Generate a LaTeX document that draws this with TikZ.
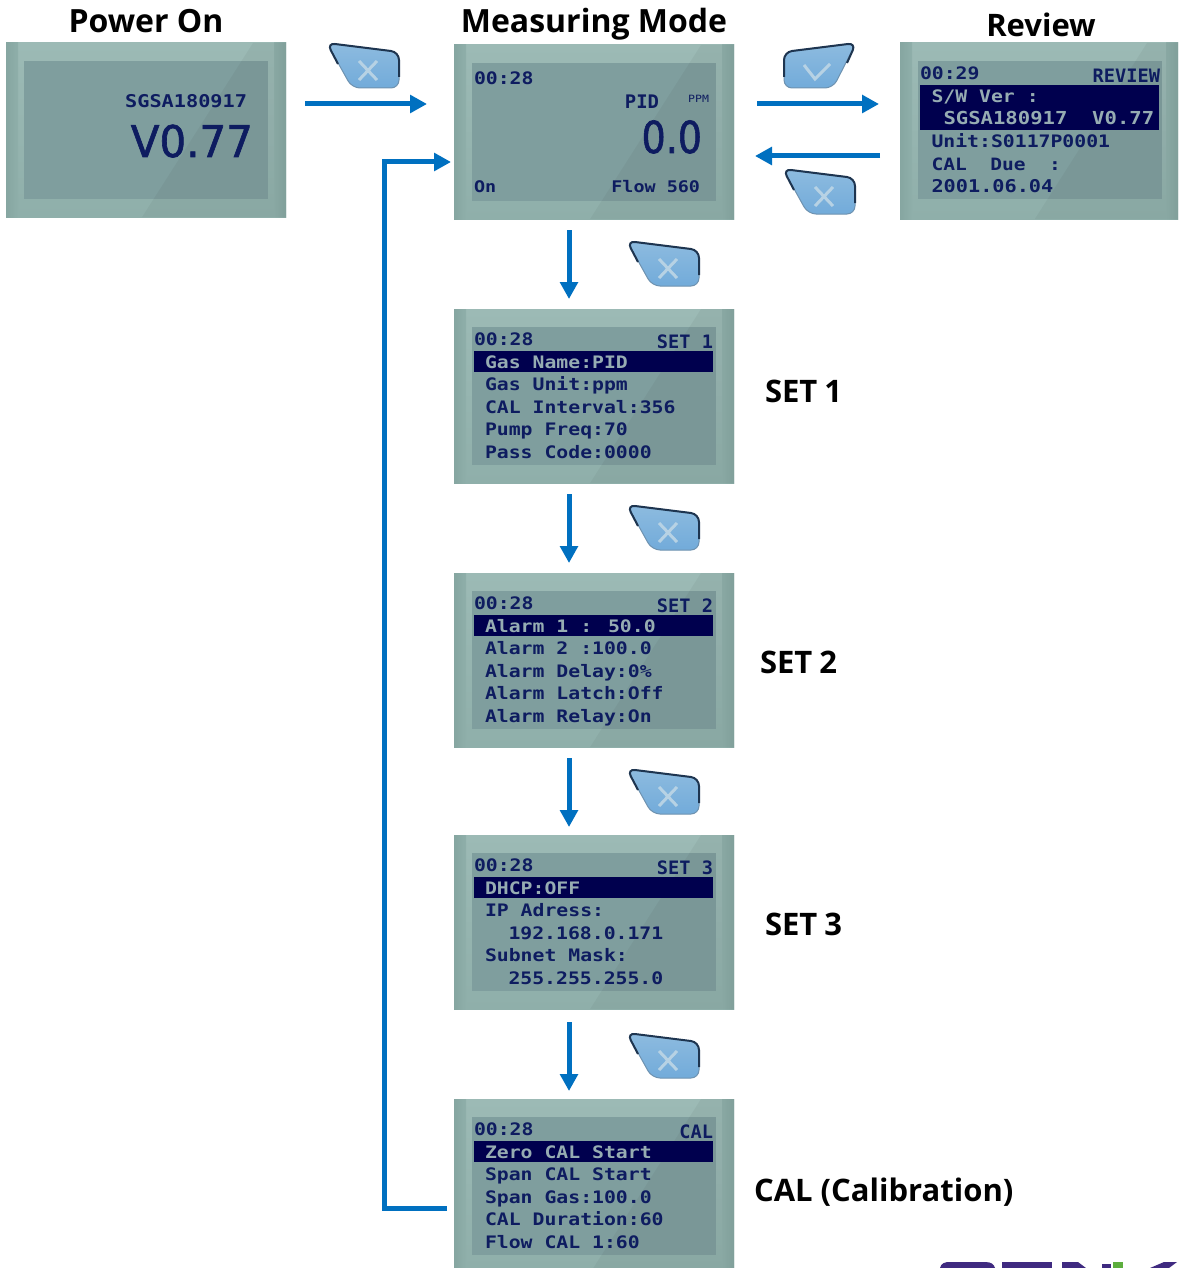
\documentclass[tikz,border=0pt]{standalone}
\usepackage{fontspec}
\usepackage{graphicx}
\usetikzlibrary{arrows.meta}
\setmainfont{Open Sans}
\newfontfamily\lcdfam[FakeStretch=1.15]{DejaVu Sans Mono}
\newfontfamily\lcdbig[FakeBold=1.5]{DejaVu Sans}
\definecolor{lcdink}{HTML}{0E1C60}
\definecolor{lcdbarc}{HTML}{00004E}
\definecolor{lcdbartext}{HTML}{96ACB2}
\definecolor{lcdinner}{HTML}{7F9E9E}
\definecolor{lcdtop}{HTML}{9CBAB5}
\definecolor{lcdbot}{HTML}{8FAFAA}
\definecolor{lcdedge}{HTML}{86A6A1}
\definecolor{flow}{HTML}{0070C0}
\definecolor{btnline}{HTML}{6E92B0}
\definecolor{btndark}{HTML}{1E3550}
\definecolor{btnhi}{HTML}{8DBBDF}
\definecolor{btnlo}{HTML}{72ABDA}
\definecolor{btnmark}{HTML}{B7D2E4}
\definecolor{logop}{HTML}{3F2A80}
\definecolor{logog}{HTML}{5DAE3E}
\newcount\lcdcnt
\newcommand{\lcdsize}{\fontsize{17.2}{20}\selectfont}
\tikzset{
  lcdscreen/.style={inner sep=0pt,outer sep=0pt,top color=lcdtop,bottom color=lcdbot,draw=none},
  lcdpanel/.style={fill=lcdinner,draw=none},
  lcdsheen/.style={fill=black,fill opacity=.04,draw=none},
  lcdbarfill/.style={fill=lcdbarc,draw=none},
  lcdtext/.style={inner sep=0pt,outer sep=0pt,text=lcdink,font=\lcdfam\bfseries\lcdsize},
  lcdinv/.style={lcdtext,text=lcdbartext},
  heading/.style={inner sep=0pt,outer sep=0pt,text=black,font=\bfseries\fontsize{31}{33}\selectfont},
  flowline/.style={draw=flow,line width=5pt,-{Triangle[length=17pt,width=17.5pt]}},
  btnbody/.style={draw=btnline,line width=1pt,rounded corners=8pt,top color=btnhi,bottom color=btnlo},
  btnedge/.style={draw=btndark,line width=2pt,rounded corners=8pt},
  btnglyph/.style={draw=btnmark,line width=3pt},
  xkey/.pic={
    \draw[btnbody] (-1,0) -- (71,9) -- (71,45) -- (24,45) -- cycle;
    \draw[btnedge] (10,21) -- (-1,0) -- (71,9) -- (71,34);
    \draw[btnglyph] (31,18) -- (49,37) (49,18) -- (31,37);
  },
  checkkey/.pic={
    \draw[btnbody] (0,9) -- (72,0) -- (49,45) -- (0,45) -- cycle;
    \draw[btnedge] (0,34) -- (0,9) -- (72,0) -- (63,20);
    \draw[btnglyph] (20,22) -- (31,36) -- (46,21);
  },
}
% name, centre x, centre y, width, height
\newcommand{\lcdscreen}[5]{%
  \node[lcdscreen,minimum width=#4pt,minimum height=#5pt] (#1) at (#2,#3) {};
  \fill[left color=lcdedge,right color=lcdbot] (#1.north west) rectangle ([shift={(12,0)}]#1.south west);
  \fill[right color=lcdedge,left color=lcdbot] ([shift={(-12,0)}]#1.north east) rectangle (#1.south east);
  \fill[lcdpanel] ([shift={(18,18)}]#1.north west) rectangle ([shift={(262,156)}]#1.north west);
  \pgfmathsetmacro\lcdslant{247-0.637*#5}%
  \fill[lcdsheen] ([shift={(247,0)}]#1.north west) -- (#1.north east) -- (#1.south east) -- ([shift={(\lcdslant,0)}]#1.south west) -- cycle;
}
% screen, anchor, x, y, text
\newcommand{\lcdput}[6][lcdtext]{%
  \global\advance\lcdcnt by 1
  \node[#1,anchor=#3] (lcdt\the\lcdcnt) at ([shift={(#4,#5)}]#2.north west) {#6};
}
\newcommand{\lcdstrip}[4][20]{%
  \fill[lcdbarfill] ([shift={(#1,#3)}]#2.north west) rectangle ([shift={(259,#4)}]#2.north west);
}
% standard menu screen: name, right label
\newcommand{\lcdhead}[2]{%
  \lcdput{#1}{base west}{20}{36}{00:28}
  \lcdput{#1}{base east}{259}{39}{\fontsize{16.2}{20}\selectfont\scalebox{1}[1.14]{#2}}
}
\begin{document}
\begin{tikzpicture}[x=1pt,y=-1pt]
\useasboundingbox (0,0) rectangle (1178,1268);
\fill[white] (0,0) rectangle (1178,1268);

% logo fragment
\fill[logop] (940,1268) .. controls (941,1263) and (945,1262) .. (950,1262) -- (985,1262) .. controls (991,1262) and (994,1264) .. (995,1268) -- cycle;
\fill[logop] (1002,1262) -- (1052,1262) -- (1052,1268) -- (1002,1268) -- cycle;
\fill[logop] (1062,1262) -- (1078,1262) -- (1086,1268) -- (1062,1268) -- cycle;
\fill[logop] (1102,1268) -- (1102,1264) -- (1111,1264) -- (1111,1268) -- cycle;
\fill[logog] (1113,1262) -- (1123,1262) -- (1123,1268) -- (1113,1268) -- cycle;
\fill[logop] (1164,1262) -- (1177,1262) -- (1169,1268) -- (1150,1268) -- cycle;

% screens
\lcdscreen{power}{146}{130}{280}{174}
\lcdscreen{meas}{594}{132}{280}{174}
\lcdscreen{review}{1039}{131}{278}{176}
\lcdscreen{setone}{594}{396}{280}{174}
\lcdscreen{settwo}{594}{660}{280}{174}
\lcdscreen{setthree}{594}{922}{280}{174}
\lcdscreen{cal}{594}{1183.5}{280}{169}

% power on
\lcdput{power}{base east}{241}{65}{\fontsize{17.6}{20}\selectfont SGSA180917}
\lcdput{power}{base east}{247}{114}{\lcdbig\mdseries\fontsize{42}{46}\selectfont\scalebox{1}[1.04]{V0.77}}

% measuring
\lcdput{meas}{base west}{20}{40}{00:28}
\lcdput{meas}{base east}{205}{64}{\fontsize{16.4}{20}\selectfont\scalebox{1}[1.14]{PID}}
\lcdput{meas}{base east}{255}{58}{\lcdfam\mdseries\fontsize{10}{12}\selectfont PPM}
\lcdput{meas}{base east}{248}{108}{\lcdbig\mdseries\fontsize{38}{42}\selectfont\scalebox{1}[1.16]{0.0}}
\lcdput{meas}{base west}{20}{148}{\fontsize{16}{20}\selectfont On}
\lcdput{meas}{base east}{246}{148}{\fontsize{16}{20}\selectfont Flow 560}

% review
\lcdstrip{review}{42}{87}
\lcdput{review}{base west}{20}{37}{00:29}
\lcdput{review}{base east}{260}{40}{\fontsize{16.2}{20}\selectfont\scalebox{1}[1.14]{REVIEW}}
\lcdput[lcdinv]{review}{base west}{31.5}{60}{S/W Ver :}
\lcdput[lcdinv]{review}{base west}{43.5}{82}{\fontsize{17.9}{20}\selectfont SGSA180917~~V0.77}
\lcdput{review}{base west}{31.5}{105}{Unit:S0117P0001}
\lcdput{review}{base west}{31.5}{128}{\fontsize{17}{20}\selectfont CAL~~Due~~:}
\lcdput{review}{base west}{31.5}{150}{\fontsize{17.6}{20}\selectfont 2001.06.04}

% set 1
\lcdstrip{setone}{42}{63}
\lcdhead{setone}{SET 1}
\lcdput[lcdinv]{setone}{base west}{31}{59}{Gas Name:PID}
\lcdput{setone}{base west}{31}{81.5}{Gas Unit:ppm}
\lcdput{setone}{base west}{31}{104}{CAL Interval:356}
\lcdput{setone}{base west}{31}{126.5}{Pump Freq:70}
\lcdput{setone}{base west}{31}{149}{Pass Code:0000}

% set 2
\lcdstrip{settwo}{42}{63}
\lcdhead{settwo}{SET 2}
\lcdput[lcdinv]{settwo}{base west}{31}{59}{Alarm 1 : 50.0}
\lcdput{settwo}{base west}{31}{81.5}{Alarm 2 :100.0}
\lcdput{settwo}{base west}{31}{104}{Alarm Delay:0\%}
\lcdput{settwo}{base west}{31}{126.5}{Alarm Latch:Off}
\lcdput{settwo}{base west}{31}{149}{Alarm Relay:On}

% set 3
\lcdstrip{setthree}{42}{63}
\lcdhead{setthree}{SET 3}
\lcdput[lcdinv]{setthree}{base west}{31}{59}{DHCP:OFF}
\lcdput{setthree}{base west}{31}{81.5}{IP Adress:}
\lcdput{setthree}{base west}{54.5}{104}{192.168.0.171}
\lcdput{setthree}{base west}{31}{126.5}{Subnet Mask:}
\lcdput{setthree}{base west}{54.5}{149}{255.255.255.0}

% cal
\lcdstrip{cal}{42}{63}
\lcdhead{cal}{CAL}
\lcdput[lcdinv]{cal}{base west}{31}{59}{Zero CAL Start}
\lcdput{cal}{base west}{31}{81.5}{Span CAL Start}
\lcdput{cal}{base west}{31}{104}{Span Gas:100.0}
\lcdput{cal}{base west}{31}{126.5}{CAL Duration:60}
\lcdput{cal}{base west}{31}{149}{Flow CAL 1:60}

% headings
\node[heading,anchor=base] (hpower) at (146,33) {\fontsize{32}{34}\selectfont Power On};
\node[heading,anchor=base] (hmeas) at (594,33) {\fontsize{32}{34}\selectfont Measuring Mode};
\node[heading,anchor=base] (hreview) at (1041,37) {Review};
\node[heading,anchor=base west] (hsetone) at (765,402) {SET\hspace{7pt}1};
\node[heading,anchor=base west] (hsettwo) at (760,673) {SET\hspace{7pt}2};
\node[heading,anchor=base west] (hsetthree) at (765,935) {SET\hspace{7pt}3};
\node[heading,anchor=base west] (hcal) at (754,1201) {CAL (Calibration)};

% keys
\pic at (328,43) {xkey};
\pic at (628,241) {xkey};
\pic at (628,505) {xkey};
\pic at (628,769) {xkey};
\pic at (628,1033) {xkey};
\pic at (784,169) {xkey};
\pic at (784,43) {checkkey};

% connectors
\draw[flowline,shorten <=19pt,shorten >=27pt] ([shift={(0,-26)}]power.east) -- ([shift={(0,-28)}]meas.west);
\draw[flowline,shorten <=23pt,shorten >=21pt] ([shift={(0,-28)}]meas.east) -- ([shift={(0,-27)}]review.west);
\draw[flowline,shorten <=20pt,shorten >=21pt] ([shift={(0,25)}]review.west) -- ([shift={(0,24)}]meas.east);
\draw[flowline,shorten <=11pt,shorten >=10pt] ([shift={(-25,0)}]meas.south) -- ([shift={(-25,0)}]setone.north);
\draw[flowline,shorten <=11pt,shorten >=10pt] ([shift={(-25,0)}]setone.south) -- ([shift={(-25,0)}]settwo.north);
\draw[flowline,shorten <=11pt,shorten >=8pt] ([shift={(-25,0)}]settwo.south) -- ([shift={(-25,0)}]setthree.north);
\draw[flowline,shorten <=13pt,shorten >=8pt] ([shift={(-25,0)}]setthree.south) -- ([shift={(-25,0)}]cal.north);
\coordinate (busx) at (384,0);
\coordinate (calout) at ([shift={(0,24.5)}]cal.west);
\coordinate (measin) at ([shift={(0,30)}]meas.west);
\draw[flowline,shorten <=7pt,shorten >=3pt] (calout) -- (busx |- calout) -- (busx |- measin) -- (measin);
\end{tikzpicture}
\end{document}
